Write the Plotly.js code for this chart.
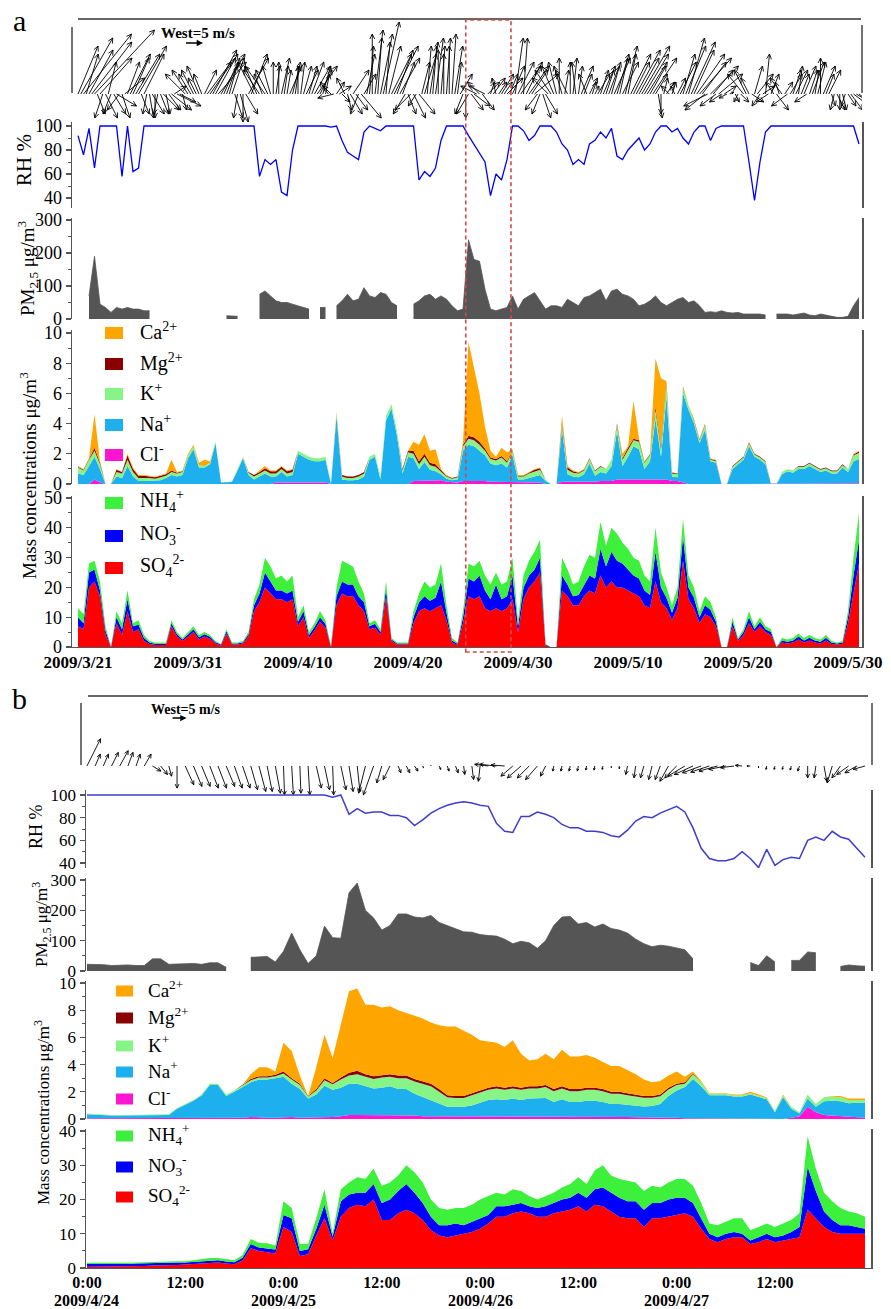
<!DOCTYPE html>
<html>
<head>
<meta charset="utf-8">
<script src="https://cdn.plot.ly/plotly-3.0.1.min.js"></script>
<style>
html,body{margin:0;padding:0;background:#fff;}
#chart{width:891px;height:1309px;}
</style>
</head>
<body>
<div id="chart"></div>
<script>
// ================= DATA =================
// ---- Panel a : 12-hourly samples from 2009-03-21 00:00 ----
const startA = '2009-03-21T00:00:00Z';
const stepA_hours = 12;
const RH_a = [
92,76,98,65,100,100,100,100,58,100,
62,65,100,100,100,100,100,100,100,100,
100,100,100,100,100,100,100,100,100,100,
100,100,100,58,72,68,72,45,42,80,
100,100,100,100,100,100,99,100,88,78,
75,72,95,100,98,96,100,100,100,100,
100,100,55,62,58,65,88,100,100,100,
100,92,85,78,70,42,60,55,72,100,
100,96,88,92,100,100,100,95,85,80,
68,72,68,85,88,95,90,98,75,72,
80,85,90,80,85,95,100,100,95,98,
90,85,95,100,100,88,98,100,100,100,
100,100,70,38,70,95,100,100,100,100,
100,100,100,100,100,100,100,100,100,100,
100,100,85];
const PM_a = [
null,null,70,190,45,35,20,35,30,35,
30,30,25,25,null,null,null,null,null,8,
null,15,null,null,null,null,null,10,10,8,
null,8,null,75,85,70,55,50,50,45,
40,35,30,null,35,35,null,40,55,75,
55,60,95,70,65,80,75,50,40,null,
null,45,55,70,75,60,70,60,40,25,
30,240,180,175,90,30,25,30,35,70,
30,60,70,80,55,30,40,40,35,60,
50,40,65,70,80,90,55,85,90,75,
70,60,40,45,55,70,50,40,50,60,
65,50,55,40,20,22,20,25,20,18,
20,15,15,15,15,12,null,15,15,15,
12,15,18,12,10,15,12,8,5,5,
8,40,65];
const Cl_a = [
0,0,0,.3,.1,null,null,0,0,0,
0,0,0,0,0,0,0,0,0,0,
0,0,0,0,0,0,0,0,0,0,
0,0,0,0,0,0,.1,.1,.1,.1,
.1,.1,.1,.1,.1,.1,null,0,0,0,
0,0,0,0,0,0,0,0,0,0,
0,.2,.2,.25,.25,.25,.25,.15,.1,.1,
.2,.2,.2,.2,.2,.15,.15,.15,.1,.1,
.1,.1,.1,.1,.1,0,null,null,.15,.15,
.15,.15,.15,.15,.15,.2,.2,.2,.3,.3,
.3,.3,.3,.3,.3,.3,.3,.3,.2,.2,
.1,0,0,0,0,0,0,null,null,0,
0,0,0,0,0,0,null,null,0,0,
0,0,0,0,0,0,0,0,0,0,
0,0,.05];
const Na_a = [
.7,.6,1.2,1.5,.9,null,null,.5,.4,1.2,
.5,.2,.2,.2,.2,.25,.4,.6,.5,.6,
1.7,2.3,1.1,1.1,1.3,2.7,.1,.1,.15,.9,
1.7,.6,.3,.5,.7,.5,.4,.7,.4,.5,
1.9,1.7,1.5,1.4,1.4,1.5,null,4.5,.3,.25,
.25,.3,.5,1.6,1.8,.3,4.2,5.0,3.2,.7,
1.8,1.5,.8,1.2,.7,.6,.4,.2,.15,.2,
2.0,2.4,2.3,2.0,1.7,1.2,1.1,1.2,1.0,1.8,
.2,.2,.3,.4,.5,.2,null,null,3.5,.5,
.35,.3,.5,1.2,.4,.6,.5,1.0,3.2,.9,
1.5,2.2,2.0,.7,1.2,4.0,1.5,5.5,.3,.25,
5.9,4.9,4.0,2.7,3.6,1.5,1.4,null,null,1.0,
1.3,1.6,2.5,1.8,1.6,1.3,null,null,.65,.85,
.75,1.0,1.0,1.2,1.0,.8,.9,.7,.7,1.1,
.8,1.5,1.6];
const K_a = [
.4,.3,.4,.4,.3,null,null,.3,.3,.4,
.3,.2,.2,.2,.15,.2,.15,.2,.2,.2,
.2,.2,.15,.1,.1,.1,0,0,0,.1,
.1,.15,.2,.2,.2,.2,.2,.2,.2,.2,
.2,.2,.2,.2,.2,.2,null,.2,.2,.15,
.15,.2,.2,.2,.2,.2,.3,.3,.3,.2,
.3,.3,.3,.35,.3,.3,.2,.15,.1,.15,
.3,.4,.4,.4,.3,.3,.3,.4,.3,.3,
.2,.2,.3,.35,.35,.1,null,null,.3,.3,
.25,.25,.25,.3,.3,.35,.3,.4,.4,.4,
.5,.4,.5,.4,.4,.6,.5,.8,.2,.2,
.4,.3,.2,.2,.3,.1,.1,null,null,.15,
.15,.15,.2,.15,.15,.15,null,null,.15,.15,
.15,.15,.15,.15,.15,.15,.15,.15,.15,.15,
.2,.4,.4];
const Mg_a = [
.05,.05,.05,.2,.1,null,null,.15,.1,.3,
.2,.15,.15,.12,.1,.1,.1,.1,.05,.05,
0,0,0,0,0,0,0,0,0,0,
0,.05,.1,.1,.15,.15,.15,.15,.15,.15,
0,0,0,0,0,0,null,0,.1,.1,
.1,.1,.1,0,0,0,0,0,0,.1,
.1,.2,.2,.2,.15,.15,.1,.05,.05,.05,
.1,.2,.2,.2,.15,.1,.1,.1,.1,.05,
.05,.05,.05,.1,.1,0,null,null,.15,.15,
.1,.05,.05,.05,.05,.05,0,0,.1,.1,
.1,.1,.1,.05,.05,.2,.2,.1,.05,.05,
.05,0,.05,.05,.05,.05,.05,null,null,.05,
.05,.05,.05,.05,.05,.05,null,null,0,0,
0,.05,.05,.05,.05,.05,.05,.05,.05,.05,
0,.05,.1];
const Ca_a = [
.05,.05,.05,2.2,.1,null,null,.05,0,.1,
.1,.05,.05,.03,.05,.05,.05,.7,.05,.05,
.1,.1,.15,.4,.1,0,0,0,0,0,
0,0,0,.1,.15,.05,.05,.05,.05,.05,
0,0,0,0,0,0,null,.1,0,0,
0,0,0,0,0,0,0,0,0,0,
0,.6,1.1,1.3,.8,1.0,.05,.05,0,0,
.2,6.2,4.7,3.2,1.45,.45,.15,.55,.6,.05,
.05,.05,.05,.05,.05,0,null,null,.4,.1,
.05,.05,.05,0,0,0,0,0,0,.3,
.1,2.5,.1,.05,.05,3.2,4.5,.1,.05,0,
.05,0,.05,.05,.05,.05,.05,null,null,0,
0,0,.05,0,0,0,null,null,0,0,
0,0,0,0,0,0,0,0,0,0,
0,.05,.05];
const SO4_a = [
7,6,20,22,17,4,null,8,4,12,
5,6,2,1,.7,.7,.7,7,3.5,2,
3.5,5,2.5,3.5,2.8,1.2,.5,4.5,.8,.8,
1.2,3.5,12,15,20,18,16,16,15,16,
7,10,3,5.5,8.5,6.5,null,14,18,17,
17,14,12,6,6.5,4,17,2,.8,.8,
.8,8,12,13,12,13,14,9,1.5,.7,
8,17,16,17,13,12,13,12,13,16,
5,16,20,22,25,.5,null,null,19,17,
14,14,17,19,18,24,20,22,20,20,
19,18,17,14,13,22,15,13,9,13,
29,16,13,8,11,10,7,null,null,7,
2,4,8,5,7,5,4,null,1.5,1.2,
1.5,2.5,1.5,2.2,1.5,1.2,2.2,1,.8,1,
8,18,28];
const NO3_a = [
3,2,5,4,2,1.5,null,2,2,4,
2,1.5,1,.5,.4,.4,.4,1,.8,.5,
.8,1,.8,.8,.6,.4,.3,.8,.4,.4,
.4,.8,2,3,5,4,3,3,3,3,
1.5,2,1,1.2,1.5,1.2,null,3,4,4,
4,3,3,1,1.3,1,2.5,.5,.4,.4,
.4,2,3,4,3.5,3.5,8,2.5,.7,.4,
2,6,6,7,6,4,8,4,4,8,
2,4,4,4,5,.3,null,null,5,4,
3,3.5,4,5,5,9,7,10,9,8,
7,6,6,5,4.5,10,5,3.5,2.5,3.5,
8,4,3.5,2,3,2.5,1.5,null,null,1.5,
.5,1,2,1,1.5,1,1,null,.7,.6,
.7,1,.7,.9,.7,.6,.9,.5,.4,.5,
2,6,8];
const NH4_a = [
3,3,3,3,3,1.5,null,2,2,3,
1,1.5,1,.5,.4,.4,.4,1,.7,.5,
.7,1,.7,.7,.6,.4,.2,.7,.3,.3,
.4,.7,2,3,5,5,4,5,4,5,
1.5,2,1,1.3,2,1.3,null,3,7,7,
6,5,3,1,1.2,1,2.5,.5,.3,.3,
.3,2,3,5,4.5,4.5,6,2.5,.8,.4,
2,5,5,5,5,5,4,5,5,6,
2,4,5,6,6,.2,null,null,6,5,
4,4.5,6,7,7,9,7,8,9,7,
7,6,6,5,4.5,8,5,3.5,2.5,3.5,
6,4,3.5,2,3,2.5,1.5,null,null,1.5,
.5,1,2,1,1.5,1,1,null,.8,.7,
.8,1,.8,.9,.8,.7,.9,.5,.3,.5,
2,6,9];
// ---- Panel a wind : 6-hourly (m/s, u = eastward, v = northward) ----
const windA_step_hours = 6;
const windA_u = [
5,8,12,3, 6,10,15,2, 8,-2,3,2, -2,3,5,-3, 2,5,3,5, 4,6,7,2, 5,-1,1,3, 0,-1,2,4, 1,3,5,3, 6,4,1,-5,
-4,-3,-3,-2, -3,-2,3,6, 7,6,5,7, 6,4,3,2, 3,2,-1,2, 0,3,5,4, -4,-3,-4,-2, -5,-3,-2,0, 1,0,2,1, 1,3,2,1,
0,1,2,3, 2,3,4,5, 3,2,1,-2, -2,-4,2,3, 2,-2,1,3, 4,3,-2,5, 3,2,1,0, 2,1,3,4, 1,3,5,6, 4,5,3,-3,
2,-4,3,-2, 4,2,3,1, 2,1,2,0, 1,0,1,0, 1,2,1,3, -2,0,-3,3, 4,-4,-3,3, -4,3,1,3, -1,2,3,2, 4,2,3,2,
4,5,1,4, 5,4,6,-3, -2,2,3,-4, -4,-3,-2,0, -2,1,-3,0, 1,-1,1,3, 2,-2,2,1, 1,3,2,3, 2,3,2,4, 3,2,4,3,
2,5,4,6, 5,7,6,5, 4,6,3,1, 0,1,2,-2, 1,-1,2,4, 3,5,4,6, 5,7,8,6, -5,-6,7,5, -4,6,-3,3, -2,1,0,1,
-1,2,-4,-3, -2,3,2,4, -2,3,1,-3, 2,-2,3,-1, -3,2,-4,3, 2,3,1,2, 3,-3,2,3, 1,2,0,3, 2,3,1,-1, 2,0,1,-1,
2,3,4,5, 4];
const windA_v = [
12,14,15,10, 11,13,16,-5, 9,-6,-6,8, -5,-5,-3,-4, -6,4,8,10, 9,10,12,-5, 10,-5,-6,-5, -6,-5,-5,-4, -5,-4,-4,2, -3,-2,-4,5,
6,5,6,4, 7,5,6,8, 10,11,9,8, 10,9,8,7, 9,-6,-6,-7, -7,-5,9,10, 8,7,6,5, 7,6,7,8, 7,8,9,7, 6,7,8,7,
7,8,7,6, 7,8,7,7, 6,7,5,3, 2,-1,3,2, -2,4,-4,-5, 6,-4,-5,-6, 5,10,12,15, 16,14,15,18, 13,12,10,12, 11,9,8,-5,
-5,-4,-6,-3, -5,8,10,12, 13,12,14,11, 12,10,14,12, 15,12,8,5, -5,-6,-5,-4, -3,2,3,-4, 2,3,3,4, 4,3,5,3, 4,5,7,14,
8,7,14,8, 7,6,5,-4, -5,-6,-5,4, 6,7,8,9, 7,6,6,8, 9,8,7,7, 5,5,4,3, 2,5,6,7, 6,8,7,9, 10,9,8,12,
10,10,8,11, 9,12,10,8, 7,9,5,-6, -5,4,3,2, 3,2,4,8, 10,12,14,13, 11,10,9,8, -4,-3,7,6, -3,5,-2,2, -1,.5,.5,-2,
-2,-2,5,6, 4,-2,7,5, -3,2,10,-2, 5,3,-4,3, 4,3,-3,5, 6,6,7,5, 7,-2,6,8, 6,8,9,7, 5,6,-3,-4, -4,-4,-4,-3,
-3,-4,-3,-3, -3];

// ---- Panel b : hourly samples from 2009-04-24 00:00 ----
const startB = '2009-04-24T00:00:00Z';
const stepB_hours = 1;
const RH_b = [
100,100,100,100,100,100,100,100,100,100,100,100,
100,100,100,100,100,100,100,100,100,100,100,100,
100,100,100,100,100,100,98,100,83,88,84,85,
85,82,82,80,73,78,84,88,91,93,94,93,
91,90,75,68,67,81,81,85,83,80,74,71,
71,68,68,67,64,63,69,77,81,80,84,87,
90,85,71,53,44,42,42,44,50,44,36,52,
38,43,45,44,60,63,60,68,63,61,53,45];
const PM_b = [
22,22,21,18,20,20,18,18,40,40,22,22,
24,25,22,27,27,12,null,null,45,47,48,30,
65,125,70,25,50,148,110,108,258,290,200,175,
135,150,188,188,178,175,183,160,150,140,129,128,
120,117,115,105,90,98,93,75,100,150,178,180,
155,160,145,155,140,135,125,105,90,80,85,82,
75,70,40,null,null,null,null,null,null,28,18,50,
30,null,35,35,63,60,null,null,15,20,17,16];
const Cl_b = [
.05,.05,.05,.05,.05,.05,.05,.05,.05,.05,.05,.05,
.05,.05,.08,.1,.1,.1,.1,.1,.15,.1,.1,.1,
.15,.15,.1,.1,.1,.15,.15,.2,.3,.3,.3,.25,
.25,.25,.25,.25,.25,.2,.2,.2,.15,.15,.15,.15,
.15,.15,.15,.15,.15,.15,.15,.15,.15,.15,.15,.15,
.15,.15,.15,.15,.15,.15,.15,.12,.12,.1,.1,.1,
.1,.05,.05,0,0,0,0,0,0,0,0,0,
0,0,.1,.2,.9,.5,.3,.25,.2,.15,.1,.1];
const Na_b = [
.3,.25,.2,.2,.2,.2,.2,.2,.2,.2,.25,.7,
1.0,1.3,1.65,2.4,2.4,1.6,1.9,2.25,2.55,2.8,2.8,2.9,
2.95,2.45,2.1,1.4,1.7,2.3,2.0,2.1,2.3,2.3,2.1,2.0,
2.05,2.15,1.95,1.95,1.6,1.4,1.2,.9,.75,.75,.75,.85,
1.05,1.25,1.3,1.25,1.35,1.25,1.35,1.35,1.4,1.1,1.3,1.1,
1.1,1.2,1.2,1.1,.95,.95,.9,.85,.8,.85,1.0,1.6,
2.0,2.3,2.9,2.4,1.75,1.75,1.75,1.65,1.65,1.8,1.6,1.45,
.5,1.6,.65,.2,.6,.4,1.0,1.1,1.1,1.0,1.1,1.1];
const K_b = [
.05,.05,.05,.05,.05,.05,.05,.05,.05,.05,.05,.05,
.05,.05,.07,.1,.1,.1,.1,.1,.15,.15,.15,.15,
.25,.3,.3,.15,.3,.4,.4,.6,.6,.7,.7,.7,
.75,.7,.8,.8,.9,1.0,1.0,.9,.7,.65,.65,.75,
.75,.75,.8,.75,.75,.75,.75,.75,.8,.8,.8,.8,
.8,.8,.8,.8,.75,.75,.7,.7,.65,.62,.57,.47,
.4,.25,.35,.3,.1,.1,.1,.1,.1,.1,.1,.1,
.1,.15,.15,.1,.3,.2,.3,.3,.3,.25,.2,.2];
const Mg_b = [
0,0,0,0,0,0,0,0,0,0,0,0,
0,0,0,0,0,0,0,.05,.1,.1,.1,.1,
.15,.1,.1,.05,.1,.15,.1,.15,.2,.25,.2,.2,
.2,.2,.2,.2,.2,.2,.2,.2,.15,.15,.15,.15,
.15,.15,.15,.15,.15,.15,.15,.15,.15,.15,.15,.15,
.15,.15,.15,.15,.15,.15,.15,.13,.13,.13,.13,.13,
.1,.1,.05,0,0,0,0,0,0,0,0,0,
0,0,0,0,0,0,0,0,0,0,0,0];
const Ca_b = [
0,0,0,0,0,0,0,0,0,0,0,0,
0,0,0,0,0,0,0,0,.35,.65,.65,.25,
2.1,2.0,.6,0,1.6,3.2,1.85,3.95,6.0,6.05,5.1,5.25,
4.95,5.0,4.8,4.6,4.65,4.6,4.5,4.7,5.05,5.1,4.8,4.3,
3.7,3.4,3.2,3.0,3.4,2.5,1.9,2.0,2.3,2.2,2.7,2.4,
2.4,2.4,2.2,2.0,1.9,1.9,1.7,1.5,1.2,1.0,1.0,.9,
.9,.4,.15,.1,.05,.05,.05,.05,.05,.1,.1,.05,
0,.05,0,0,0,0,0,.05,.1,.1,.1,.1];
const SO4_b = [
.4,.4,.4,.5,.5,.5,.6,.6,.7,.7,.8,.9,
1.0,1.1,1.3,1.5,1.6,1.3,1.1,2.2,5.8,5.0,4.5,4.2,
12,10.5,3.5,4,9.5,14.5,8,15,17.5,18.5,18,20,
14,14,16,17,16,14,11,9.5,9,9.5,9.8,10.5,
11.5,13,15,15,16,16.5,16,15,15,16,16.5,17,
18,16.5,18.5,18,16.5,15,14.5,14.5,12,14.5,14.5,15,
15.5,16,15,11.5,8.5,7.5,8.5,9,9,7,7.5,8.5,
7.5,8,8.5,9,17,14.5,12,10.5,10,10,10,10];
const NO3_b = [
.8,.8,.6,.6,.7,.7,.7,.8,.8,.7,.7,.7,
.6,.7,.8,.8,.7,.6,.6,.8,1.2,1.0,1.3,1.2,
3.5,4,1.5,1.5,2,4,1.2,4.5,4,3.5,4,4.5,
5,6,6.5,7.5,6,5,4,3,3.5,3.5,2.7,3,
3,2.5,3,3,2.5,2.5,2,2.5,3,3,3.5,3.5,
4,4,4.5,5.5,5.5,5.5,5,5,5,4.5,4.5,5,
5,4.5,4,3,1.5,1.5,1.5,1.5,1,1,1.5,1.5,
1.5,1.5,2,3,12.5,8,4.5,3.5,2.5,2.5,2,1.5];
const NH4_b = [
.3,.3,.3,.3,.3,.3,.3,.3,.4,.4,.4,.4,
.4,.5,.5,.6,.6,.6,.6,.8,1.5,1.3,1.4,1.2,
4,3,2,1.5,3,4.5,1,3.5,3.5,4.5,4,4.5,
5,5,4.5,5.5,6,6,5,5,4.5,4.5,5,5,
5.5,5.5,4,3.5,4.5,3.5,3,2.5,3,3,3.5,4,
4.5,4,5.5,6.5,5,5.5,6,5.5,5.5,5,4.5,5,
5.5,5.5,5,4.5,3,3.5,3.5,4,4.5,3,3,3,
3,3.5,3.5,4,9,6.5,5.5,5.5,5,4,4,3.5];
const windB_u = [
4,1.5,1.5,2,2.5,1.5,1.2,2,2.5,2,.8,0,
2.5,2.5,2.5,2.5,2.5,2.5,2.3,2.2,2,2,1.5,1.5,
.3,.5,.3,.5,1.5,1.5,.3,1.5,1.2,.8,-2,-3,
-1.5,-2,.8,1,1,.2,0,.5,.5,.8,.3,.5,
-.5,-4,-5,-4,-3.5,-4,-3.5,-3.5,-1.5,-.3,-.3,-.3,
-.3,-.2,-.2,-.2,.1,0,-.5,-.5,-1,-1,-1.5,-2.5,
-3.5,-5,-5.5,-5.5,-5.5,-5.5,-5,-4,-2,-1,0,-.2,
-.2,-.2,-.3,-.5,0,-.5,.8,-1.5,-2.5,-3.5,-3.5,-3.5];
const windB_v = [
8,3.5,3.5,4,4.5,4,3.5,3.5,-1.5,-2.5,-3,-6.5,
-5.5,-6,-6,-6.5,-6.5,-6,-6.5,-6.5,-7,-7.5,-7.5,-8,
-8.5,-8.5,-8,-8.5,-6.5,-7,-8.5,-7,-7.5,-7.5,-8,-8.5,
-5,-4,-2,-2,-1.5,-.5,.3,-1,-1.5,-2,-2.5,-4,
-4.5,.5,.5,.3,-3,-3.5,-3.5,-4,-3,-1.5,-1.5,-1.5,
-1.5,-1.2,-1.2,-1,-.5,-.8,-2.5,-3.5,-3.5,-4,-4,-4.5,
-3.5,-3,-2.5,-2,-1.8,-1.5,-1,-.5,.2,0,-.5,-1,
-1,-1,-1.2,-1.5,-3.5,-3.5,-4.5,-5,-3.5,-2.5,-2,-1];

// ---- labels / categories ----
const tickDatesA = ['2009-03-21','2009-03-31','2009-04-10','2009-04-20','2009-04-30','2009-05-10','2009-05-20','2009-05-30'];
const tickLabelsA = ['2009/3/21','2009/3/31','2009/4/10','2009/4/20','2009/4/30','2009/5/10','2009/5/20','2009/5/30'];
const tickTimesB = ['2009-04-24 00:00','2009-04-24 12:00','2009-04-25 00:00','2009-04-25 12:00','2009-04-26 00:00','2009-04-26 12:00','2009-04-27 00:00','2009-04-27 12:00'];
const tickLabelsB = ['0:00<br>2009/4/24','12:00','0:00<br>2009/4/25','12:00','0:00<br>2009/4/26','12:00','0:00<br>2009/4/27','12:00'];
const zoomBox = ['2009-04-25 06:00','2009-04-29 08:40'];
const minorNames = ['Cl<sup>-</sup>','Na<sup>+</sup>','K<sup>+</sup>','Mg<sup>2+</sup>','Ca<sup>2+</sup>'];
const majorNames = ['SO<sub>4</sub><sup>2-</sup>','NO<sub>3</sub><sup>-</sup>','NH<sub>4</sub><sup>+</sup>'];
const scaleSpeed = 5; // m/s reference arrow
const scaleArrowA = {t:'2009-03-30T13:00:00Z', y:12.75};
const scaleArrowB = {t:'2009-04-24T10:05:00Z', y:14.1};

// ================= STYLE =================
const minorColors = ['#FF14D2','#1EAFEF','#86F486','#8B0000','#FFA500'];
const majorColors = ['#FF0000','#0000FF','#3CF03C'];
const SERIF = 'Liberation Serif, Times New Roman, serif';
const W = 891, H = 1309;
const rangeA = ['2009-03-20 10:55','2009-05-31 06:33'];
const rangeB = ['2009-04-23 23:53','2009-04-27 23:44'];
const xDomA = [72, 862], xDomB = [86, 871];
const P = {
  windA:[18,130], rhA:[122,208], pmA:[218,319], minA:[330,484], majA:[496,647],
  windB:[696,800], rhB:[790,868], pmB:[878,971], minB:[981,1119], majB:[1129,1268]
};
const R = {
  windA:[-9,19], rhA:[31.67,103.33], pmA:[0,306], minA:[0,10.2], majA:[0,50.7],
  windB:[-10,20.59], rhB:[35.6,104.4], pmB:[0,306.6], minB:[0,10.15], majB:[0,40.6]
};

// ================= HELPERS =================
const HOUR = 3600000;
const S = ms => new Date(ms).toISOString().replace('T',' ').replace('Z','');
const parseD = s => Date.parse(s.replace(' ','T') + (s.length<=10?'T00:00:00Z':'Z'));
const dom = p => [1 - p[1]/H, 1 - p[0]/H];
const T0A = Date.parse(startA), T0B = Date.parse(startB);
const timeA = RH_a.map((_,i)=>S(T0A + i*stepA_hours*HOUR));
const timeB = RH_b.map((_,i)=>S(T0B + i*stepB_hours*HOUR));

function msPerUnit(xDom, xRange, yPx, yRange){
  const pxPerMs = (xDom[1]-xDom[0]) / (parseD(xRange[1]) - parseD(xRange[0]));
  const pxPerUnit = (yPx[1]-yPx[0]) / (yRange[1]-yRange[0]);
  return pxPerUnit / pxPerMs;
}
const KA = msPerUnit(xDomA, rangeA, P.windA, R.windA);
const KB = msPerUnit(xDomB, rangeB, P.windB, R.windB);

function windSegments(t0, stepMs, u, v, K, head){
  const xs=[], ys=[];
  for(let i=0;i<u.length;i++){
    const t=t0+i*stepMs, uu=u[i], vv=v[i];
    const tip=t+uu*K;
    xs.push(S(t),S(tip),null); ys.push(0,vv,null);
    const m=Math.hypot(uu,vv);
    if(m<0.4) continue;
    const hl=Math.min(head, m*0.5), ang=Math.atan2(vv,uu);
    for(const s of [1,-1]){
      const a=ang+Math.PI+s*0.45;
      xs.push(S(tip),S(tip+hl*Math.cos(a)*K),null);
      ys.push(vv, vv+hl*Math.sin(a), null);
    }
  }
  return {xs,ys};
}
// split a series at missing values into contiguous runs
function runs(t, y){
  const out=[]; let cur=null;
  y.forEach((v,i)=>{
    if(v==null){cur=null;return;}
    if(!cur){cur={x:[],y:[]};out.push(cur);}
    cur.x.push(t[i]); cur.y.push(v);
  });
  return out;
}

const traces=[];
const wa = windSegments(T0A, windA_step_hours*HOUR, windA_u, windA_v, KA, 1.4);
traces.push({type:'scatter',mode:'lines',x:wa.xs,y:wa.ys,xaxis:'x',yaxis:'y',line:{color:'#000',width:0.9},hoverinfo:'skip'});
const wb = windSegments(T0B, HOUR, windB_u, windB_v, KB, 1.3);
traces.push({type:'scatter',mode:'lines',x:wb.xs,y:wb.ys,xaxis:'x2',yaxis:'y6',line:{color:'#000',width:0.9},hoverinfo:'skip'});

function line(t, y, xa, ya, color, w){ return {type:'scatter',mode:'lines',x:t,y:y,xaxis:xa,yaxis:ya,line:{color:color,width:w},connectgaps:false,hoverinfo:'skip'}; }
function areas(t, y, xa, ya, color){
  return runs(t,y).map(r=>({type:'scatter',mode:'lines',x:r.x,y:r.y,xaxis:xa,yaxis:ya,fill:'tozeroy',fillcolor:color,line:{color:color,width:0.8},hoverinfo:'skip'}));
}
function stack(t, y, xa, ya, color, group){ return {type:'scatter',mode:'lines',x:t,y:y.map(v=>v==null?0:v),xaxis:xa,yaxis:ya,stackgroup:group,fillcolor:color,line:{color:color,width:0},hoverinfo:'skip'}; }

traces.push(line(timeA, RH_a, 'x','y2','#0000FF',1.3));
traces.push(...areas(timeA, PM_a, 'x','y3','#555555'));
[Cl_a,Na_a,K_a,Mg_a,Ca_a].forEach((a,i)=>traces.push(stack(timeA,a,'x','y4',minorColors[i],'minA')));
[SO4_a,NO3_a,NH4_a].forEach((a,i)=>traces.push(stack(timeA,a,'x','y5',majorColors[i],'majA')));

traces.push(line(timeB, RH_b, 'x2','y7','#3D3DD0',1.5));
traces.push(...areas(timeB, PM_b, 'x2','y8','#555555'));
[Cl_b,Na_b,K_b,Mg_b,Ca_b].forEach((a,i)=>traces.push(stack(timeB,a,'x2','y9',minorColors[i],'minB')));
[SO4_b,NO3_b,NH4_b].forEach((a,i)=>traces.push(stack(timeB,a,'x2','y10',majorColors[i],'majB')));

function yAx(p, r, dtick, minor, size, xa){
  return {domain:dom(p), range:r, anchor:xa, tickmode:'linear', tick0:0, dtick:dtick,
    showline:true, linecolor:'#555', linewidth:1.5, mirror:true, ticks:'outside', ticklen:5, tickwidth:1.2, tickcolor:'#555',
    minor:{dtick:minor, tick0:0, ticks:'outside', ticklen:3, tickwidth:1, tickcolor:'#555', showgrid:false},
    showgrid:false, zeroline:false, tickfont:{family:SERIF,size:size,color:'#000'}, fixedrange:true};
}
function windAx(p, r, xa){ return {domain:dom(p), range:r, anchor:xa, visible:false, fixedrange:true}; }

const layout = {
  width:W, height:H, margin:{l:0,r:0,t:0,b:0}, showlegend:false,
  paper_bgcolor:'#fff', plot_bgcolor:'rgba(0,0,0,0)',
  font:{family:SERIF,color:'#000'},
  xaxis:{type:'date', domain:[xDomA[0]/W, xDomA[1]/W], range:rangeA, anchor:'y5', tickmode:'array', tickvals:tickDatesA, ticktext:tickLabelsA,
    tickfont:{family:SERIF,size:17,weight:'bold',color:'#000'}, ticks:'', showline:true, linecolor:'#555', linewidth:1, showgrid:false, zeroline:false, fixedrange:true},
  xaxis2:{type:'date', domain:[xDomB[0]/W, xDomB[1]/W], range:rangeB, anchor:'y10', tickmode:'array', tickvals:tickTimesB,
    ticktext:tickLabelsB.map(s=>s.split('<br>')[0]),
    tickfont:{family:SERIF,size:16,weight:'bold',color:'#000'}, ticks:'', showline:true, linecolor:'#555', linewidth:1, showgrid:false, zeroline:false, fixedrange:true},
  yaxis: windAx(P.windA, R.windA, 'x'),
  yaxis2: yAx(P.rhA, R.rhA, 20, 10, 18, 'x'),
  yaxis3: yAx(P.pmA, R.pmA, 100, 50, 18, 'x'),
  yaxis4: yAx(P.minA, R.minA, 2, 1, 18, 'x'),
  yaxis5: yAx(P.majA, R.majA, 10, 5, 18, 'x'),
  yaxis6: windAx(P.windB, R.windB, 'x2'),
  yaxis7: yAx(P.rhB, R.rhB, 20, 10, 17, 'x2'),
  yaxis8: yAx(P.pmB, R.pmB, 100, 50, 17, 'x2'),
  yaxis9: yAx(P.minB, R.minB, 2, 1, 17, 'x2'),
  yaxis10: yAx(P.majB, R.majB, 10, 5, 17, 'x2'),
  shapes:[], annotations:[]
};
layout.yaxis2.tick0 = 40; layout.yaxis7.tick0 = 40;

const sh = layout.shapes, an = layout.annotations;
function hline(x0,x1,y,c,w){ sh.push({type:'line',xref:'paper',yref:'paper',x0:x0/W,x1:x1/W,y0:1-y/H,y1:1-y/H,line:{color:c,width:w}}); }
function vline(x,y0,y1,c,w){ sh.push({type:'line',xref:'paper',yref:'paper',x0:x/W,x1:x/W,y0:1-y0/H,y1:1-y1/H,line:{color:c,width:w}}); }
hline(78,861,19,'#333',1.5); vline(72,27,93,'#444',1.5); vline(862,25,93,'#444',1.5);
hline(88,868,696,'#333',1.5); vline(81,703,765,'#444',1.5); vline(872,703,765,'#444',1.5);
sh.push({type:'rect',xref:'x',yref:'paper',x0:zoomBox[0],x1:zoomBox[1],y0:1-652/H,y1:1-20/H,line:{color:'#D24A4A',width:1.6,dash:'4px,3px'},layer:'above'});

function txt(x,y,t,size,opts){ an.push(Object.assign({xref:'paper',yref:'paper',x:x/W,y:1-y/H,text:t,showarrow:false,xanchor:'center',yanchor:'middle',font:{family:SERIF,size:size,color:'#000'}},opts||{})); }
txt(19,21,'a',30); txt(19,698,'b',30);
txt(198,33,'West=5 m/s',15,{font:{family:SERIF,size:15,color:'#000',weight:'bold'}});
txt(186,709,'West=5 m/s',14,{font:{family:SERIF,size:14,color:'#000',weight:'bold'}});
// second line (date) of the panel-b time labels
tickTimesB.forEach((t,i)=>{
  const parts = tickLabelsB[i].split('<br>');
  if(parts.length>1) an.push({xref:'x2',yref:'paper',x:t,y:1-1300/H,text:parts[1],showarrow:false,xanchor:'center',yanchor:'middle',
    font:{family:SERIF,size:16,weight:'bold',color:'#000'}});
});
// scale arrows drawn in wind-axis units
[[scaleArrowA,'x','y',KA],[scaleArrowB,'x2','y6',KB]].forEach(([s,xa,ya,K])=>{
  const t=Date.parse(s.t);
  an.push({xref:xa,yref:ya,axref:xa,ayref:ya,x:S(t+scaleSpeed*K),y:s.y,ax:S(t),ay:s.y,text:' ',showarrow:true,arrowhead:2,arrowsize:0.9,arrowwidth:1.4,arrowcolor:'#000',standoff:0});
});
// rotated axis labels
const yl = (x,y,t,size)=>txt(x,y,t,size,{textangle:-90});
yl(24,160,'RH %',21);
yl(27,268,'PM<sub>2.5</sub> μg/m<sup>3</sup>',19);
yl(28,476,'Mass concentrations μg/m<sup>3</sup>',19);
yl(36,827,'RH %',18);
yl(41,925,'PM<sub>2.5</sub> μg/m<sup>3</sup>',17);
yl(42,1113,'Mass concentrations μg/m<sup>3</sup>',17);

// legends (top to bottom)
function legend(xl,xr,tx,ys,names,colors,size,h){
  ys.forEach((y,i)=>{
    sh.push({type:'rect',xref:'paper',yref:'paper',x0:xl/W,x1:xr/W,y0:1-(y+h/2)/H,y1:1-(y-h/2)/H,fillcolor:colors[i],line:{width:0}});
    txt(tx,y-2,names[i],size,{xanchor:'left'});
  });
}
const rev = a=>a.slice().reverse();
legend(105,123,138,[333,364,394,425,455],rev(minorNames),rev(minorColors),20,12);
legend(105,123,138,[503,536,568],rev(majorNames),rev(majorColors),20,12);
legend(116,133,146,[991,1018,1046,1072,1099],rev(minorNames),rev(minorColors),19,11);
legend(116,133,146,[1136,1167,1197],rev(majorNames),rev(majorColors),19,11);

Plotly.newPlot('chart', traces, layout, {staticPlot:true, displayModeBar:false});
</script>
</body>
</html>
